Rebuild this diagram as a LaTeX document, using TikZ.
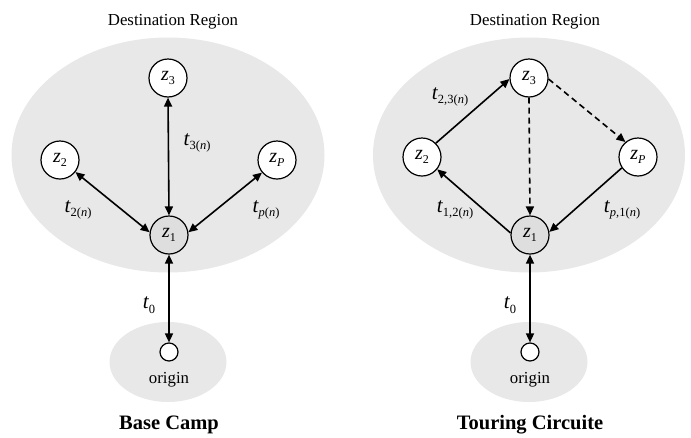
\documentclass[tikz,border=0pt]{standalone}
\usepackage{fontspec}
\setmainfont{Liberation Serif}
\usetikzlibrary{arrows.meta,shapes.geometric}
\newcommand{\myT}[1]{{\fontsize{21}{21}\selectfont\itshape t}\kern0.3pt\raisebox{-4.5pt}{\fontsize{12.5}{12.5}\selectfont #1}}
\newcommand{\myZ}[1]{{\fontsize{20}{20}\selectfont\itshape z}\raisebox{-3.5pt}{\fontsize{12}{12}\selectfont #1}}
\definecolor{regfill}{RGB}{232,232,232}
\definecolor{zfill}{RGB}{222,222,222}
\tikzset{
  region/.style={ellipse, fill=regfill, inner sep=0pt},
  zn/.style={circle, draw, line width=1.2pt, minimum size=38pt, inner sep=0pt, fill=white},
  zone/.style={zn, fill=zfill},
  orig/.style={circle, draw, line width=1.2pt, minimum size=18pt, inner sep=0pt, fill=white},
  oneway/.style={line width=1.6pt, -{Triangle[length=9pt,width=8pt]}},
  twoway/.style={line width=1.6pt, {Triangle[length=9pt,width=8pt]}-{Triangle[length=9pt,width=8pt]}},
  dashway/.style={oneway, dash pattern=on 6pt off 4pt},
  title/.style={font=\fontsize{16.8}{16.8}\selectfont},
  caption/.style={font=\fontsize{20.5}{20.5}\selectfont\bfseries},
  lbl/.style={inner sep=0pt}
}
\begin{document}
\begin{tikzpicture}[x=1pt,y=-1pt]
\useasboundingbox (0,0) rectangle (691,437);
% ---------- Left: Base Camp ----------
\node[region, minimum width=313pt, minimum height=235pt] (R1) at (168,155) {};
\node[region, minimum width=117pt, minimum height=80pt] (O1) at (168,362) {};
\node[title] (D1) at (173,22) {Destination Region};
\node[zn] (a3) at (168,78) {\myZ{3}};
\node[zn] (a2) at (60,160) {\myZ{2}};
\node[zn] (aP) at (277,160) {\myZ{\textit{P}}};
\node[zone] (a1) at (169,235) {\myZ{1}};
\node[orig] (ao) at (169,352) {};
\node[title] (on1) at (169,380) {origin};
\node[caption] (C1) at (169,425) {Base Camp};
\draw[twoway] (a1.north) -- (a3.south);
\draw[twoway] (a1.172) -- (a2.-38);
\draw[twoway] (a1.8) -- (aP.220);
\draw[twoway] (a1.south) -- (ao.north);
\node[lbl] (la3) at (197,143) {\myT{3(\textit{n})}};
\node[lbl] (la2) at (78,210) {\myT{2(\textit{n})}};
\node[lbl] (laP) at (266,210) {\myT{\textit{p}(\textit{n})}};
\node[lbl] (la0) at (149,305) {\myT{0}};
% ---------- Right: Touring Circuite ----------
\node[region, minimum width=312pt, minimum height=235pt] (R2) at (529,155) {};
\node[region, minimum width=117pt, minimum height=80pt] (O2) at (529,362) {};
\node[title] (D2) at (535,22) {Destination Region};
\node[zn] (b3) at (529,78) {\myZ{3}};
\node[zn] (b2) at (422,157) {\myZ{2}};
\node[zn] (bP) at (638,157) {\myZ{\textit{P}}};
\node[zone] (b1) at (530,235) {\myZ{1}};
\node[orig] (bo) at (530,352) {};
\node[title] (on2) at (530,380) {origin};
\node[caption] (C2) at (530,425) {Touring Circuite};
\draw[oneway] (b2.45) -- (b3.183);
\draw[oneway] (b1.174) -- (b2.-39);
\draw[oneway] (bP.214) -- (b1.9);
\draw[dashway] (b3.-3) -- (bP.130);
\draw[dashway] (b3.south) -- (b1.north);
\draw[twoway] (b1.south) -- (bo.north);
\node[lbl] (lb23) at (450,97) {\myT{2,3(\textit{n})}};
\node[lbl] (lb12) at (455,210) {\myT{1,2(\textit{n})}};
\node[lbl] (lbP1) at (622,210) {\myT{\textit{p},1(\textit{n})}};
\node[lbl] (lb0) at (510,305) {\myT{0}};
\end{tikzpicture}
\end{document}
